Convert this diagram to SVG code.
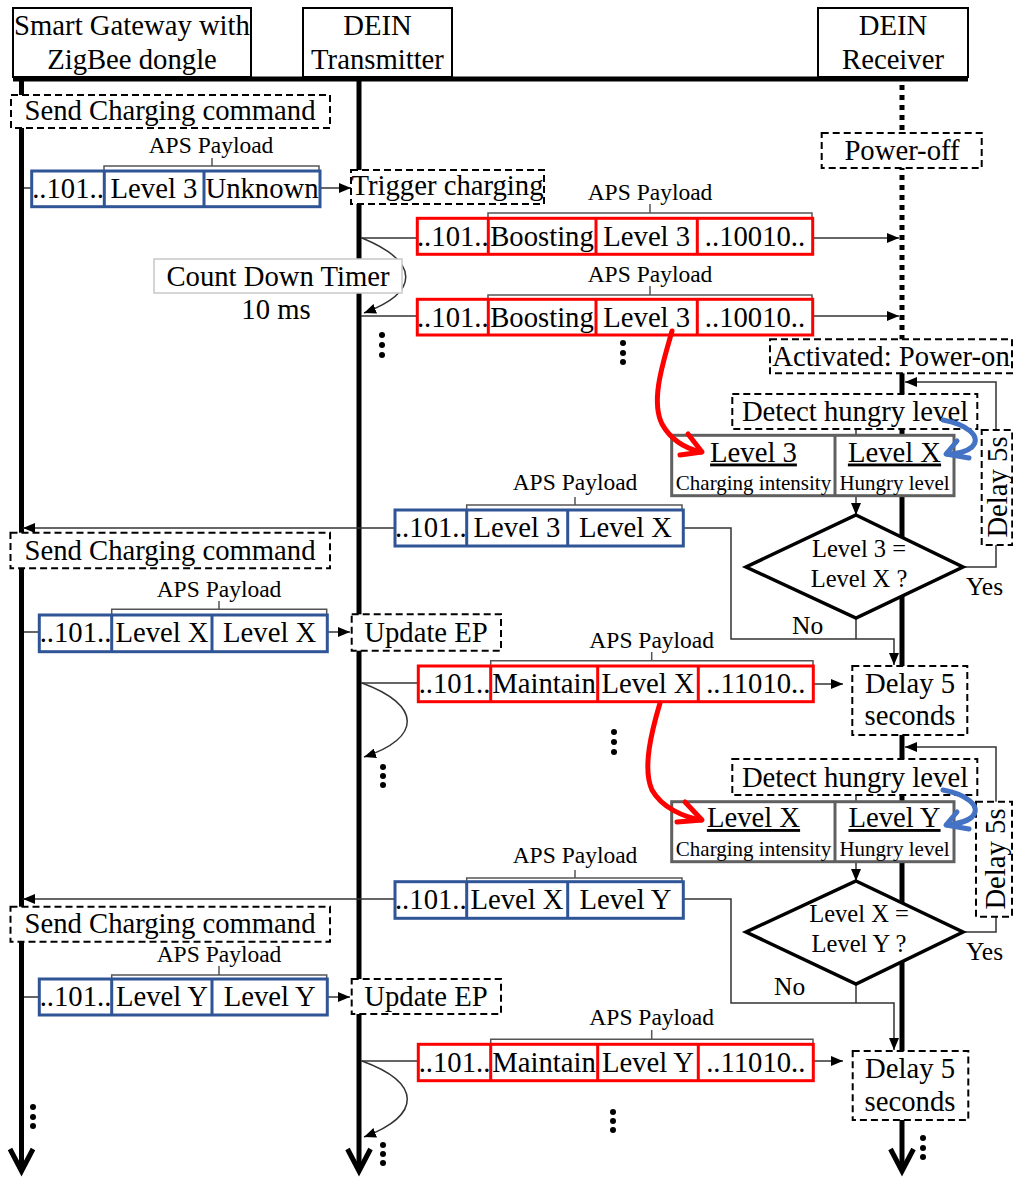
<svg xmlns="http://www.w3.org/2000/svg" width="1013" height="1178" viewBox="0 0 1013 1178">
<defs>
<style>
text{font-family:"Liberation Serif","Times New Roman",serif;fill:#000}
.t{font-size:28.7px}
.c{text-anchor:middle}
.aps{font-size:23.5px}
.sm{font-size:21px}
.dg{font-size:24.5px}
.yn{font-size:25.5px}
.hdr{fill:#fff;stroke:#000;stroke-width:2}
.dash{fill:#fff;stroke:#000;stroke-width:2;stroke-dasharray:7 4}
.blue{fill:#fff;stroke:#2F5597;stroke-width:3}
.red{fill:#fff;stroke:#FF0000;stroke-width:3}
.gbox{fill:#fff;stroke:#606060;stroke-width:3}
.dia{fill:#fff;stroke:#000;stroke-width:3.5}
.ln{fill:none;stroke:#333;stroke-width:1.5}
.br{fill:none;stroke:#555;stroke-width:1.5}
.life{fill:none;stroke:#000;stroke-width:5}
.rc{fill:none;stroke:#FF0000;stroke-width:5;stroke-linecap:round;stroke-linejoin:round}
.bc{fill:none;stroke:#4472C4;stroke-width:5;stroke-linecap:round;stroke-linejoin:round}
</style>
<marker id="ah" viewBox="0 0 12 10" refX="12" refY="5" markerWidth="12" markerHeight="10" markerUnits="userSpaceOnUse" orient="auto"><path d="M0,0 L12,5 L0,10 z" fill="#000"/></marker>
</defs>
<rect width="1013" height="1178" fill="#fff"/>

<g id="lifelines">
<line class="life" x1="13" y1="79" x2="968" y2="79"/>
<line class="life" x1="21.5" y1="79" x2="21.5" y2="1170"/>
<path class="life" d="M10,1149 L21.5,1171 L33,1149"/>
<line class="life" x1="359" y1="79" x2="359" y2="1170"/>
<path class="life" d="M347.5,1149 L359,1171 L370.5,1149"/>
<line class="life" x1="902" y1="85" x2="902" y2="340" stroke-dasharray="5 5"/>
<line class="life" x1="902" y1="373" x2="902" y2="1170"/>
<path class="life" d="M890.5,1149 L902,1171 L913.5,1149"/>
</g>

<g id="connectors">
<path class="ln" d="M24,188 H32"/>
<path class="ln" d="M320,188 H351" marker-end="url(#ah)"/>
<path class="ln" d="M361,238 H417"/>
<path class="ln" d="M813,238 H899" marker-end="url(#ah)"/>
<path class="ln" d="M361,316 H417"/>
<path class="ln" d="M813,316 H899" marker-end="url(#ah)"/>
<path class="ln" d="M362,238 C420,262 420,292 364,313" marker-end="url(#ah)"/>
<path class="ln" d="M395,528 H23" marker-end="url(#ah)"/>
<path class="ln" d="M683,528 H731 V639 H894 V665" marker-end="url(#ah)"/>
<path class="ln" d="M856,618 V639"/>
<path class="ln" d="M963,567 H996 V545"/>
<path class="ln" d="M996,430 V382 H905" marker-end="url(#ah)"/>
<path class="ln" d="M856,429 V435"/>
<path class="ln" d="M856,496 V515" marker-end="url(#ah)"/>
<path class="ln" d="M24,632 H39"/>
<path class="ln" d="M327,632 H350" marker-end="url(#ah)"/>
<path class="ln" d="M361,683 H418"/>
<path class="ln" d="M813,684 H843" marker-end="url(#ah)"/>
<path class="ln" d="M362,683 C422,705 422,738 364,757" marker-end="url(#ah)"/>
<path class="ln" d="M996,802 V747 H905" marker-end="url(#ah)"/>
<path class="ln" d="M963,932 H996 V917"/>
<path class="ln" d="M856,795 V802"/>
<path class="ln" d="M856,862 V881" marker-end="url(#ah)"/>
<path class="ln" d="M395,899 H23" marker-end="url(#ah)"/>
<path class="ln" d="M683,899 H731 V1003 H894 V1050" marker-end="url(#ah)"/>
<path class="ln" d="M856,984 V1003"/>
<path class="ln" d="M24,997 H39"/>
<path class="ln" d="M327,997 H350" marker-end="url(#ah)"/>
<path class="ln" d="M361,1061 H418"/>
<path class="ln" d="M813,1061 H843" marker-end="url(#ah)"/>
<path class="ln" d="M362,1061 C422,1083 422,1115 364,1137" marker-end="url(#ah)"/>
</g>

<g id="hdr-gateway"><rect class="hdr" x="13" y="8" width="238" height="69"/><text class="t c" x="132" y="35">Smart Gateway with</text><text class="t c" x="132" y="69">ZigBee dongle</text></g>
<g id="hdr-transmitter"><rect class="hdr" x="303" y="8" width="149" height="69"/><text class="t c" x="377.5" y="35">DEIN</text><text class="t c" x="377.5" y="69">Transmitter</text></g>
<g id="hdr-receiver"><rect class="hdr" x="818" y="8" width="150" height="69"/><text class="t c" x="893" y="35">DEIN</text><text class="t c" x="893" y="69">Receiver</text></g>

<g id="send-cmd-1"><rect class="dash" x="11" y="95" width="319" height="33"/><text class="t c" x="170" y="120">Send Charging command</text></g>
<g id="pkt-blue-1">
<text class="aps c" x="211" y="153">APS Payload</text>
<path class="br" d="M104,171 V166 H319 V171 M212,166 V158"/>
<rect class="blue" x="31.7" y="171" width="288.3" height="35.7"/>
<path class="blue" d="M104.3,171 V206.7 M204,171 V206.7"/>
<text class="t c" x="68" y="198">..101..</text><text class="t c" x="154" y="198">Level 3</text><text class="t c" x="262" y="198">Unknown</text>
</g>
<g id="trigger"><rect class="dash" x="351" y="170" width="193" height="34"/><text class="t c" x="447.5" y="195">Trigger charging</text></g>

<g id="pkt-red-1">
<text class="aps c" x="650" y="200">APS Payload</text>
<path class="br" d="M488,218 V213 H812 V218 M650,213 V204"/>
<rect class="red" x="417.3" y="218.3" width="395.4" height="36"/>
<path class="red" d="M488.3,218.3 V254.3 M596,218.3 V254.3 M697.3,218.3 V254.3"/>
<text class="t c" x="452.8" y="246">..101..</text><text class="t c" x="542" y="246">Boosting</text><text class="t c" x="646.7" y="246">Level 3</text><text class="t c" x="755" y="246">..10010..</text>
</g>
<g id="pkt-red-2">
<text class="aps c" x="650" y="282">APS Payload</text>
<path class="br" d="M488,299 V295 H812 V299 M650,295 V286"/>
<rect class="red" x="417.3" y="299.3" width="395.4" height="35.7"/>
<path class="red" d="M488.3,299.3 V335 M596,299.3 V335 M697.3,299.3 V335"/>
<text class="t c" x="452.8" y="327">..101..</text><text class="t c" x="542" y="327">Boosting</text><text class="t c" x="646.7" y="327">Level 3</text><text class="t c" x="755" y="327">..10010..</text>
</g>
<g id="timer"><rect x="154" y="259" width="248" height="34" fill="#fff" stroke="#c8c8c8" stroke-width="1.5"/><text class="t c" x="278" y="285.5">Count Down Timer</text><text class="t c" x="276" y="318.5">10 ms</text></g>

<g id="power-off"><rect class="dash" x="821.7" y="133" width="160" height="35"/><text class="t c" x="902" y="160">Power-off</text></g>
<g id="activated"><rect class="dash" x="770" y="339.3" width="242" height="34"/><text class="t c" x="891" y="366">Activated: Power-on</text></g>
<g id="detect-1"><rect class="dash" x="732.3" y="394" width="245" height="35"/><text class="t c" x="855" y="421">Detect hungry level</text></g>
<g id="levels-1">
<rect class="gbox" x="671.7" y="435.3" width="282.3" height="60.4"/><path class="gbox" d="M835,435.3 V495.7"/>
<text class="t c" x="753.5" y="461.5" text-decoration="underline">Level 3</text><text class="sm c" x="753.5" y="490">Charging intensity</text>
<text class="t c" x="894.5" y="461.5" text-decoration="underline">Level X</text><text class="sm c" x="894.5" y="490">Hungry level</text>
</g>
<g id="delay5s-1"><rect class="dash" x="981.7" y="430" width="30.5" height="115"/><text class="t c" x="997" y="487" dominant-baseline="central" transform="rotate(-90 997 487)">Delay 5s</text></g>
<g id="decision-1"><polygon class="dia" points="856,515 963,567 856,618 746,567"/><text class="dg c" x="859" y="557">Level 3 =</text><text class="dg c" x="859" y="587">Level X ?</text></g>
<text class="yn" x="966" y="595">Yes</text>
<text class="yn" x="792" y="634">No</text>
<g id="delay-1"><rect class="dash" x="852.3" y="666" width="115" height="69"/><text class="t c" x="910" y="693">Delay 5</text><text class="t c" x="910" y="725">seconds</text></g>

<g id="pkt-blue-ret-1">
<text class="aps c" x="575" y="490">APS Payload</text>
<path class="br" d="M466.7,510 V505 H682 V510 M575,505 V497"/>
<rect class="blue" x="395" y="510" width="288.3" height="36"/>
<path class="blue" d="M466.7,510 V546 M567.7,510 V546"/>
<text class="t c" x="430.8" y="537">..101..</text><text class="t c" x="517" y="537">Level 3</text><text class="t c" x="625.5" y="537">Level X</text>
</g>
<g id="send-cmd-2"><rect class="dash" x="10.5" y="532.7" width="319.5" height="35.6"/><text class="t c" x="170" y="560">Send Charging command</text></g>
<g id="pkt-blue-2">
<text class="aps c" x="219" y="597">APS Payload</text>
<path class="br" d="M111.7,615 V609.3 H326.7 V615 M219,609.3 V601"/>
<rect class="blue" x="39.3" y="615" width="288" height="36.7"/>
<path class="blue" d="M111.7,615 V651.7 M212,615 V651.7"/>
<text class="t c" x="75.5" y="642">..101..</text><text class="t c" x="162" y="642">Level X</text><text class="t c" x="269.7" y="642">Level X</text>
</g>
<g id="update-ep-1"><rect class="dash" x="351.7" y="614.3" width="149.3" height="36.4"/><text class="t c" x="426" y="642">Update EP</text></g>
<g id="pkt-red-3">
<text class="aps c" x="651.7" y="648">APS Payload</text>
<path class="br" d="M490.7,666 V660.7 H813 V666 M651.7,660.7 V652"/>
<rect class="red" x="418.3" y="666" width="395" height="35.7"/>
<path class="red" d="M490.7,666 V701.7 M597.7,666 V701.7 M698.3,666 V701.7"/>
<text class="t c" x="454.5" y="693">..101..</text><text class="t c" x="544" y="693">Maintain</text><text class="t c" x="648" y="693">Level X</text><text class="t c" x="755.8" y="693">..11010..</text>
</g>

<g id="detect-2"><rect class="dash" x="732.3" y="759" width="245" height="36"/><text class="t c" x="855" y="787">Detect hungry level</text></g>
<g id="levels-2">
<rect class="gbox" x="671.7" y="801.7" width="282.3" height="60"/><path class="gbox" d="M835,801.7 V861.7"/>
<text class="t c" x="753.5" y="827" text-decoration="underline">Level X</text><text class="sm c" x="753.5" y="856">Charging intensity</text>
<text class="t c" x="894.5" y="827" text-decoration="underline">Level Y</text><text class="sm c" x="894.5" y="856">Hungry level</text>
</g>
<g id="delay5s-2"><rect class="dash" x="976" y="801.7" width="36" height="115"/><text class="t c" x="995" y="859" dominant-baseline="central" transform="rotate(-90 995 859)">Delay 5s</text></g>
<g id="decision-2"><polygon class="dia" points="856,881 963,932 856,984 746,932"/><text class="dg c" x="859" y="922">Level X =</text><text class="dg c" x="859" y="952">Level Y ?</text></g>
<text class="yn" x="966" y="960">Yes</text>
<text class="yn" x="774" y="995">No</text>

<g id="pkt-blue-ret-2">
<text class="aps c" x="575" y="863">APS Payload</text>
<path class="br" d="M466.7,882 V878 H682 V882 M575,878 V870"/>
<rect class="blue" x="395" y="881.7" width="288.3" height="36.6"/>
<path class="blue" d="M466.7,881.7 V918.3 M567.7,881.7 V918.3"/>
<text class="t c" x="430.8" y="908.5">..101..</text><text class="t c" x="517" y="908.5">Level X</text><text class="t c" x="625.5" y="908.5">Level Y</text>
</g>
<g id="send-cmd-3"><rect class="dash" x="10.5" y="906.7" width="319.5" height="35"/><text class="t c" x="170" y="933">Send Charging command</text></g>
<g id="pkt-blue-3">
<text class="aps c" x="219" y="962">APS Payload</text>
<path class="br" d="M111.7,979 V975 H326.7 V979 M219,975 V966"/>
<rect class="blue" x="39.3" y="979" width="288" height="36"/>
<path class="blue" d="M111.7,979 V1015 M212,979 V1015"/>
<text class="t c" x="75.5" y="1006">..101..</text><text class="t c" x="162" y="1006">Level Y</text><text class="t c" x="269.7" y="1006">Level Y</text>
</g>
<g id="update-ep-2"><rect class="dash" x="351.7" y="979" width="149.3" height="35"/><text class="t c" x="426" y="1006">Update EP</text></g>
<g id="pkt-red-4">
<text class="aps c" x="651.7" y="1025">APS Payload</text>
<path class="br" d="M490.7,1044 V1039.3 H813 V1044 M651.7,1039.3 V1030"/>
<rect class="red" x="418.3" y="1044.3" width="395" height="36.4"/>
<path class="red" d="M490.7,1044.3 V1080.7 M597.7,1044.3 V1080.7 M698.3,1044.3 V1080.7"/>
<text class="t c" x="454.5" y="1072">..101..</text><text class="t c" x="544" y="1072">Maintain</text><text class="t c" x="648" y="1072">Level Y</text><text class="t c" x="755.8" y="1072">..11010..</text>
</g>
<g id="delay-2"><rect class="dash" x="852.7" y="1051" width="115.6" height="69"/><text class="t c" x="910" y="1078">Delay 5</text><text class="t c" x="910" y="1111">seconds</text></g>

<g id="mapping-arrows">
<path class="rc" d="M672,331 C664,360 650,400 662,424 C672,442 688,449 701,452"/>
<polyline class="rc" points="688,434 702,452 680,455"/>
<path class="rc" d="M660,703 C652,730 642,768 652,790 C662,808 684,817 701,820"/>
<polyline class="rc" points="685,802 702,820 677,822"/>
<path class="bc" d="M943,420 C965,424 983,436 972,447 C965,453 955,454 947,454"/>
<polyline class="bc" points="957,441 946,454 969,458"/>
<path class="bc" d="M943,790 C965,794 983,806 972,817 C965,823 955,824 947,825"/>
<polyline class="bc" points="957,812 946,825 969,829"/>
</g>

<g id="ellipses" fill="#000">
<circle cx="382" cy="335" r="3"/><circle cx="382" cy="345" r="3"/><circle cx="382" cy="355" r="3"/>
<circle cx="623" cy="343" r="3"/><circle cx="623" cy="353" r="3"/><circle cx="623" cy="362" r="3"/>
<circle cx="383" cy="767" r="3"/><circle cx="383" cy="776" r="3"/><circle cx="383" cy="785" r="3"/>
<circle cx="614" cy="732" r="3"/><circle cx="614" cy="742" r="3"/><circle cx="614" cy="752" r="3"/>
<circle cx="383" cy="1145" r="3"/><circle cx="383" cy="1154" r="3"/><circle cx="383" cy="1163" r="3"/>
<circle cx="33" cy="1107" r="3"/><circle cx="33" cy="1117" r="3"/><circle cx="33" cy="1126" r="3"/>
<circle cx="613" cy="1112" r="3"/><circle cx="613" cy="1121" r="3"/><circle cx="613" cy="1130" r="3"/>
<circle cx="923" cy="1138" r="3"/><circle cx="923" cy="1148" r="3"/><circle cx="923" cy="1157" r="3"/>
</g>
</svg>
